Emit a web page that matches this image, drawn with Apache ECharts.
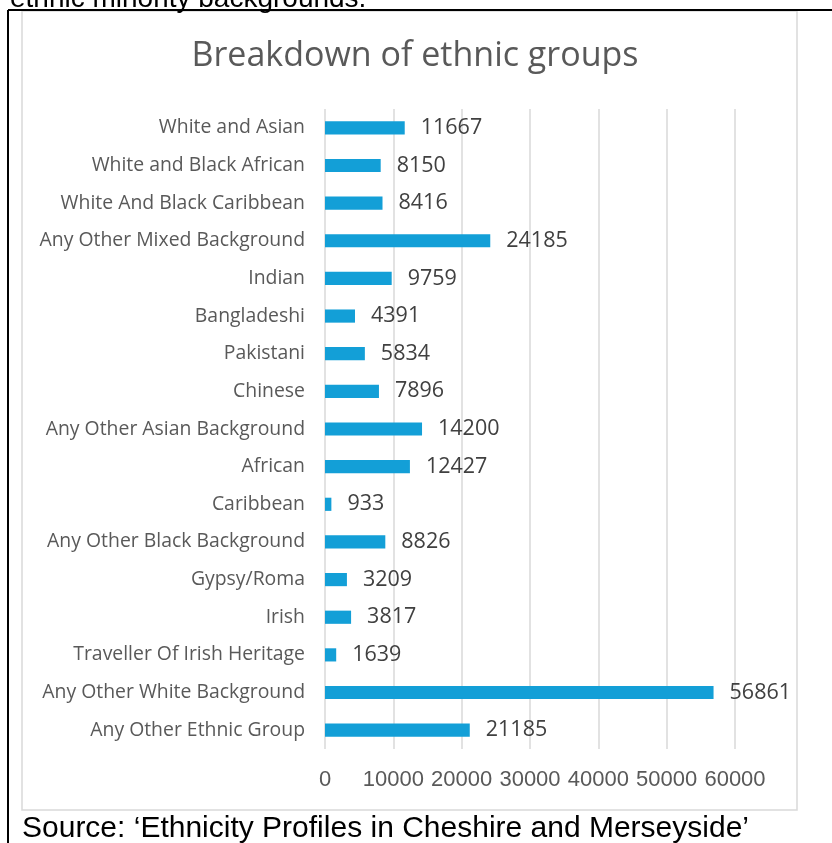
<!DOCTYPE html>
<html>
<head>
<meta charset="utf-8">
<script src="https://cdn.jsdelivr.net/npm/echarts@6/dist/echarts.min.js"></script>
<style>
  html, body { margin: 0; padding: 0; background: #fff; }
  #chart { width: 832px; height: 843px; }
</style>
</head>
<body>
<div id="chart"></div>
<script>
// Ethnic group counts, listed top to bottom as drawn
const categories = [
  'White and Asian',
  'White and Black African',
  'White And Black Caribbean',
  'Any Other Mixed Background',
  'Indian',
  'Bangladeshi',
  'Pakistani',
  'Chinese',
  'Any Other Asian Background',
  'African',
  'Caribbean',
  'Any Other Black Background',
  'Gypsy/Roma',
  'Irish',
  'Traveller Of Irish Heritage',
  'Any Other White Background',
  'Any Other Ethnic Group'
];
const counts = [11667, 8150, 8416, 24185, 9759, 4391, 5834, 7896, 14200, 12427, 933, 8826, 3209, 3817, 1639, 56861, 21185];
const xTicks = [0, 10000, 20000, 30000, 40000, 50000, 60000];

const chart = echarts.init(document.getElementById('chart'), null, { renderer: 'canvas' });

chart.setOption({
  animation: false,
  backgroundColor: '#ffffff',
  title: {
    text: 'Breakdown of ethnic groups',
    left: 410,
    top: 34,
    textAlign: 'center',
    textStyle: { fontFamily: 'Open Sans', fontSize: 34, fontWeight: 'normal', color: '#595959' }
  },
  grid: { left: 325, right: 97, top: 109, bottom: 94, containLabel: false },
  xAxis: {
    type: 'value',
    min: xTicks[0],
    max: xTicks[xTicks.length - 1],
    interval: 10000,
    axisLine: { show: false },
    axisTick: { show: false },
    splitLine: { show: true, lineStyle: { color: '#d9d9d9', width: 1.5 } },
    axisLabel: {
      margin: 20,
      fontFamily: 'Liberation Sans, Arial',
      fontSize: 22,
      color: '#595959',
      formatter: v => String(v)
    }
  },
  yAxis: {
    type: 'category',
    data: categories,
    inverse: true,
    axisLine: { show: false },
    axisTick: { show: false },
    splitLine: { show: false },
    axisLabel: {
      margin: 20,
      fontFamily: 'Open Sans',
      fontSize: 19.4,
      color: '#595959'
    }
  },
  series: [{
    type: 'bar',
    data: counts,
    barWidth: '35%',
    itemStyle: { color: '#139fd7' },
    label: {
      show: true,
      position: 'right',
      distance: 16,
      fontFamily: 'Open Sans',
      fontSize: 21.5,
      color: '#404040'
    }
  }],
  graphic: [
    // chart frame
    { type: 'rect', shape: { x: 22, y: 11, width: 775, height: 799 },
      style: { fill: 'none', stroke: '#d9d9d9', lineWidth: 1.5 }, silent: true },
    // page rules around the figure
    { type: 'line', shape: { x1: 8, y1: 10, x2: 832, y2: 10 },
      style: { stroke: '#000', lineWidth: 2 }, silent: true },
    { type: 'line', shape: { x1: 8, y1: 10, x2: 8, y2: 843 },
      style: { stroke: '#000', lineWidth: 2 }, silent: true },
    // surrounding document text
    { type: 'text', x: 10, y: -1,
      style: { text: 'ethnic minority backgrounds.', fill: '#000',
        font: '28px "Liberation Sans", Arial', textVerticalAlign: 'middle' }, silent: true },
    { type: 'text', x: 22, y: 829,
      style: { text: 'Source: \u2018Ethnicity Profiles in Cheshire and Merseyside\u2019', fill: '#000',
        font: '30px "Liberation Sans", Arial', textVerticalAlign: 'middle' }, silent: true }
  ]
});
</script>
</body>
</html>
